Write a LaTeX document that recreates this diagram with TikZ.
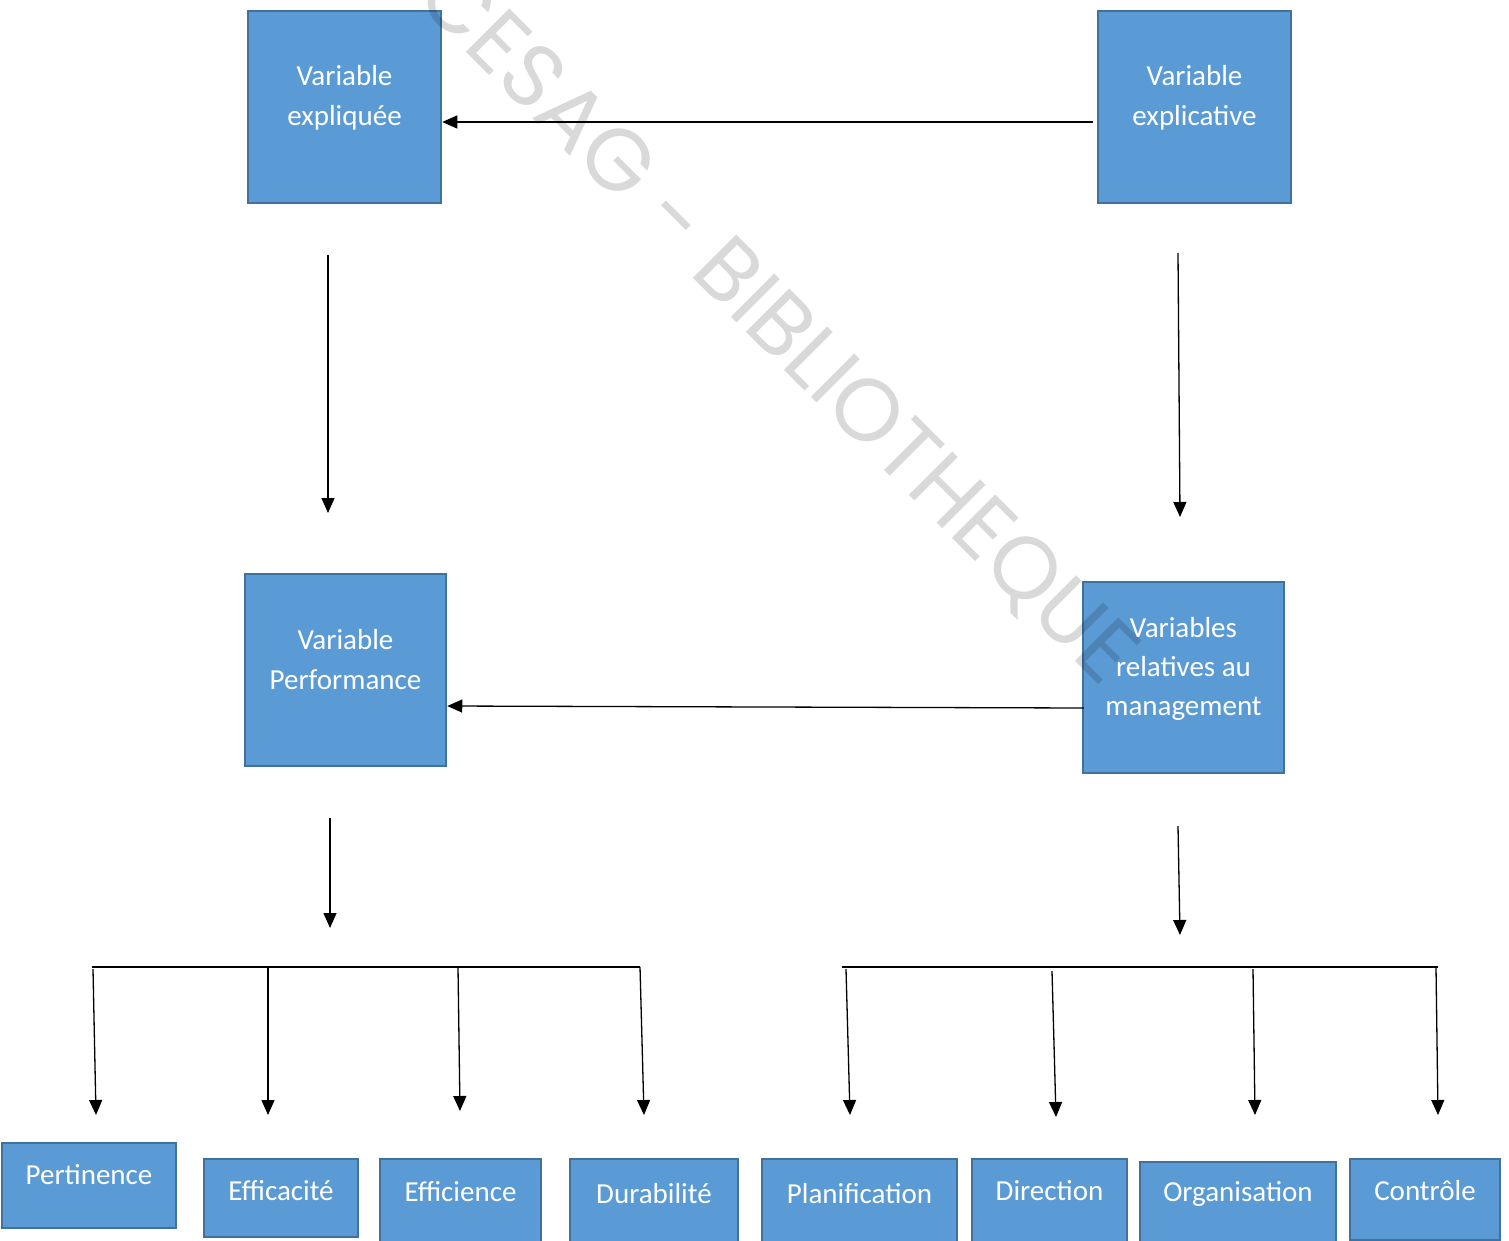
\documentclass[tikz,border=0pt]{standalone}
\usepackage{fontspec}
\setmainfont{Carlito}
\newfontfamily\wmfont{Poppins}
\usetikzlibrary{arrows.meta}
\definecolor{boxfill}{HTML}{5B9BD5}
\definecolor{boxline}{HTML}{41719C}
\begin{document}
\begin{tikzpicture}[x=1pt,y=-1pt,
  box/.style={draw=boxline, fill=boxfill, line width=2.5pt, inner sep=0pt},
  lbl/.style={text=white, font=\fontsize{29}{40}\selectfont, align=center, inner sep=0pt},
  arr/.style={line width=1.3pt, -{Triangle[length=15pt,width=13pt]}},
  ln/.style={line width=1.3pt}]
\useasboundingbox (0,0) rectangle (1509,1241);
\clip (0,0) rectangle (1509,1241);

% main boxes
\node[box, minimum width=193pt, minimum height=192pt] (ve) at (344.5,107) {};
\node[box, minimum width=193pt, minimum height=192pt] (vx) at (1194.5,107) {};
\node[box, minimum width=201pt, minimum height=192pt] (vp) at (345.5,670) {};
\node[box, minimum width=201pt, minimum height=191pt] (vm) at (1183.5,677.5) {};
\node[lbl] (vet) at (344.5,98) {Variable\\expliquée};
\node[lbl] (vxt) at (1194.5,98) {Variable\\explicative};
\node[lbl] (vpt) at (345.5,660) {Variable\\Performance};
\node[lbl, font=\fontsize{29}{39}\selectfont] (vmt) at (1183.5,668.5) {Variables\\relatives au\\management};

% bottom boxes
\node[box, minimum width=174pt, minimum height=85pt] (b1) at (89,1185.5) {};
\node[box, minimum width=154pt, minimum height=78pt] (b2) at (281,1198) {};
\node[box, minimum width=161pt, minimum height=101pt] (b3) at (460.5,1209.5) {};
\node[box, minimum width=168pt, minimum height=101pt] (b4) at (654,1209.5) {};
\node[box, minimum width=195pt, minimum height=101pt] (b5) at (859.5,1209.5) {};
\node[box, minimum width=155pt, minimum height=101pt] (b6) at (1049.5,1209.5) {};
\node[box, minimum width=196pt, minimum height=98pt] (b7) at (1238,1211) {};
\node[box, minimum width=150pt, minimum height=81pt] (b8) at (1425,1199.5) {};
\node[lbl] (b1t) at (89,1175) {Pertinence};
\node[lbl] (b2t) at (281,1191) {Efficacité};
\node[lbl] (b3t) at (460.5,1192) {Efficience};
\node[lbl] (b4t) at (654,1194) {Durabilité};
\node[lbl] (b5t) at (859.5,1194) {Planification};
\node[lbl] (b6t) at (1049.5,1191) {Direction};
\node[lbl] (b7t) at (1238,1194) {Organisation};
\node[lbl] (b8t) at (1425,1191) {Contrôle};

% horizontal arrows between main boxes
\draw[arr] ([xshift=-4pt,yshift=-15pt]vx.west) -- ([yshift=-15pt]ve.east);
\draw[arr] ([xshift=2pt,yshift=-30.5pt]vm.west) -- ([yshift=-36pt]vp.east);

% vertical arrows
\coordinate (l1s) at (328,255); \coordinate (l1e) at (328,513);
\coordinate (r1s) at (1178,253); \coordinate (r1e) at (1180,517);
\coordinate (l2s) at (330,818); \coordinate (l2e) at (330,928);
\coordinate (r2s) at (1178,826); \coordinate (r2e) at (1180,935);
\draw[arr] (l1s) -- (l1e);
\draw[arr] (r1s) -- (r1e);
\draw[arr] (l2s) -- (l2e);
\draw[arr] (r2s) -- (r2e);

% left bus
\coordinate (busLa) at (92,967); \coordinate (busLb) at (640,967);
\draw[ln] (busLa) -- (busLb);
\coordinate (p1s) at (93,969);  \coordinate (p1e) at (96,1115);
\coordinate (p2s) at (268,967); \coordinate (p2e) at (268,1115);
\coordinate (p3s) at (458,967); \coordinate (p3e) at (460,1111);
\coordinate (p4s) at (640,967); \coordinate (p4e) at (644,1115);
\draw[arr] (p1s) -- (p1e);
\draw[arr] (p2s) -- (p2e);
\draw[arr] (p3s) -- (p3e);
\draw[arr] (p4s) -- (p4e);

% right bus
\coordinate (busRa) at (842,967); \coordinate (busRb) at (1438,967);
\draw[ln] (busRa) -- (busRb);
\coordinate (m1s) at (846,969);  \coordinate (m1e) at (850,1115);
\coordinate (m2s) at (1052,971); \coordinate (m2e) at (1056,1117);
\coordinate (m3s) at (1253,969); \coordinate (m3e) at (1255,1115);
\coordinate (m4s) at (1436,967); \coordinate (m4e) at (1438,1115);
\draw[arr] (m1s) -- (m1e);
\draw[arr] (m2s) -- (m2e);
\draw[arr] (m3s) -- (m3e);
\draw[arr] (m4s) -- (m4e);

% watermark
\node[rotate=-45, text=black, text opacity=0.15, inner sep=0pt,
      font=\wmfont\fontsize{88}{88}\selectfont] (wm) at (776,326) {CESAG - BIBLIOTHEQUE};
\end{tikzpicture}
\end{document}
